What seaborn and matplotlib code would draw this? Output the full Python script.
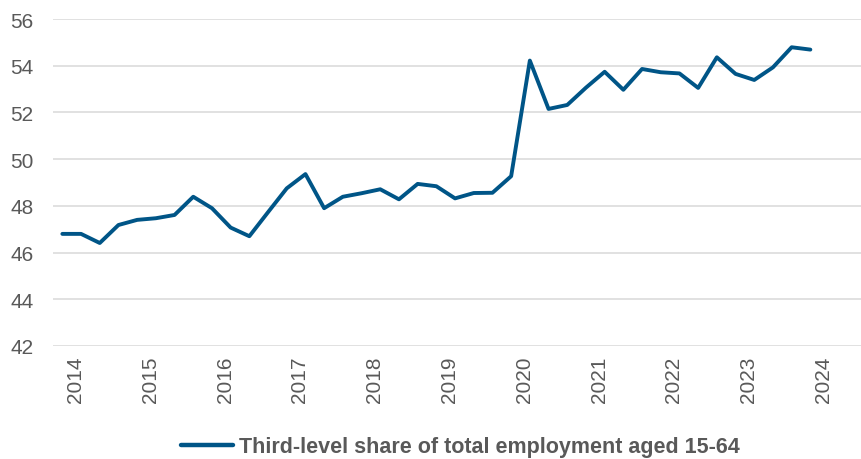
import matplotlib
matplotlib.use("Agg")
import matplotlib.pyplot as plt
import seaborn as sns
import pandas as pd

# Quarterly series, 2014 Q1 to 2024 Q1
quarters = [f"{y}Q{q}" for y in range(2014, 2024) for q in range(1, 5)] + ["2024Q1"]
share = [
    46.80, 46.80, 46.41, 47.18,
    47.40, 47.47, 47.61, 48.39,
    47.90, 47.07, 46.70, 47.73,
    48.75, 49.36, 47.90, 48.39,
    48.54, 48.71, 48.28, 48.94,
    48.84, 48.32, 48.55, 48.56,
    49.27, 54.22, 52.15, 52.32,
    53.06, 53.74, 52.97, 53.86,
    53.72, 53.67, 53.05, 54.36,
    53.65, 53.39, 53.93, 54.79,
    54.69,
]
years = [str(y) for y in range(2014, 2025)]
series_name = "Third-level share of total employment aged 15-64"
yticks = [42, 44, 46, 48, 50, 52, 54, 56]

df = pd.DataFrame({"idx": range(len(quarters)), "quarter": quarters, "share": share,
                   "series": series_name})

sns.set_theme(style="white")
plt.rcParams["font.family"] = ["Liberation Sans", "DejaVu Sans"]

fig = plt.figure(figsize=(8.62, 4.60), dpi=100)
ax = fig.add_axes([53 / 862, 1 - 347 / 460, 1 - 53 / 862, (347 - 20) / 460])

line_color = "#005587"
sns.lineplot(data=df, x="idx", y="share", hue="series", palette=[line_color],
             linewidth=2.8, ax=ax, legend=False)

ax.set_ylim(42, 56)
ax.set_yticks(yticks)
ax.set_xlim(-0.5, -0.5 + (862 - 53) / 18.7)
ax.grid(axis="y", color="#d9d9d9", linewidth=1.1)
ax.set_axisbelow(True)
for s in ax.spines.values():
    s.set_visible(False)

# Year labels sit slightly right of each year's first quarter
q1_pos = [quarters.index(f"{y}Q1") + 0.7 for y in years]
ax.set_xticks(q1_pos)
ax.set_xticklabels(years, rotation=90, va="top", ha="center")
ax.tick_params(axis="x", length=0, pad=7, labelsize=15, labelcolor="#595959")
ax.tick_params(axis="y", length=0, pad=14, labelsize=15, labelcolor="#595959")
ax.set_xlabel("")
ax.set_ylabel("")

handle = plt.Line2D([], [], color=line_color, linewidth=3.2)
fig.legend([handle], [series_name], loc="center", bbox_to_anchor=(460 / 862, 1 - 448 / 460),
           frameon=False, handlelength=2.45, handletextpad=0.25,
           prop={"weight": "bold", "size": 15.5}, labelcolor="#595959")

fig.savefig("out.png", dpi=100)
